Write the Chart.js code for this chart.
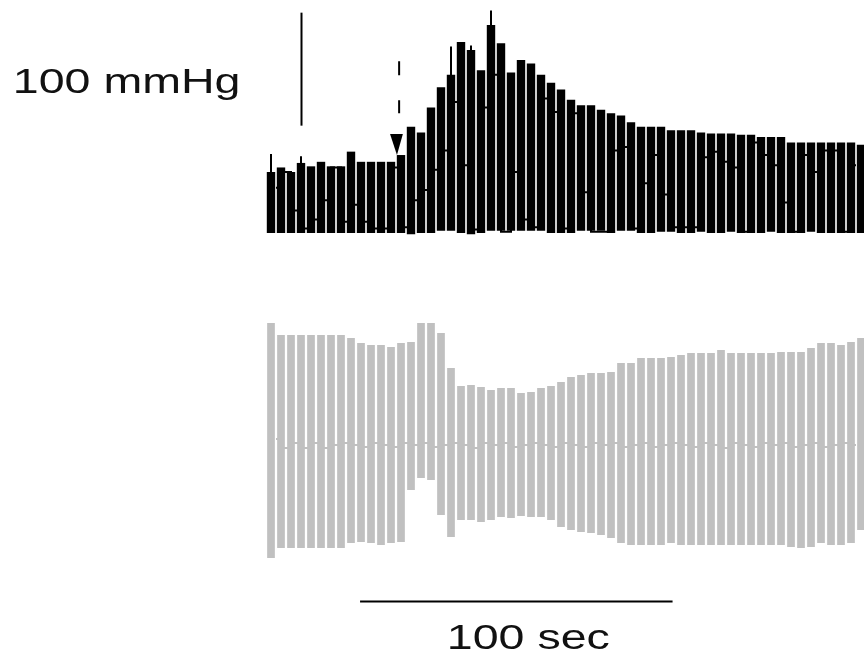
<!DOCTYPE html>
<html>
<head>
<meta charset="utf-8">
<script src="https://cdn.jsdelivr.net/npm/chart.js@4/dist/chart.umd.min.js"></script>
<style>
html,body{margin:0;padding:0;background:#fff;overflow:hidden;}
canvas{display:block;}
</style>
</head>
<body>
<canvas id="c" width="864" height="666"></canvas>
<script>
// time of each displayed sample bar (s)
const times = [0,3.2,6.4,9.6,12.8,16,19.2,22.4,25.6,28.8,32,35.2,38.4,41.6,44.8,48,51.2,54.4,57.6,60.8,
  64,67.2,70.4,73.6,76.8,80,83.2,86.4,89.6,92.8,96,99.2,102.4,105.6,108.8,112,115.2,118.4,121.6,124.8,
  128,131.2,134.4,137.6,140.8,144,147.2,150.4,153.6,156.8,160,163.2,166.4,169.6,172.8,176,179.2,182.4,185.6,188.8];

// arterial pressure envelope (mmHg): upper and lower
const bpHigh = [94,98,94,102,99,103,99,99,112,103,103,103,103,109,134,129,151,169,180,209,
  202,184,224,208,182,193,190,180,173,167,158,153,153,149,146,144,138,134,134,134,
  131,131,131,129,128,128,128,127,127,125,125,125,120,120,120,120,120,120,120,118];
const bpLow = [40,40,40,40,40,40,40,40,40,40,40,40,40,40,39,40,40,42,42,40,
  39,40,42,42,42,42,42,42,40,40,40,42,42,42,40,42,42,40,40,41,
  41,40,40,41,40,40,41,40,40,40,41,40,40,40,41,40,40,40,40,40];
// brief systolic spikes above some beats (mmHg)
const bpSpike = [110,null,null,108,null,null,null,null,null,null,null,null,null,null,null,null,null,null,205,null,
  206,null,237,null,null,null,null,null,null,null,null,null,null,null,null,null,null,null,null,null,
  null,null,null,null,null,null,null,null,null,null,null,null,null,null,null,null,null,null,null,null];
// pressure level where the trace crosses between successive beats (mmHg)
const bpCross = [80,94,60,44,52,69,98,50,65,50,44,44,98,45,69,78,96,113,156,100,
  43,151,180,41,94,52,45,159,147,44,146,76,41,41,113,116,44,84,109,74,
  45,45,45,107,112,103,98,41,120,109,100,67,41,109,94,113,113,41,100];

// second signal envelope (arbitrary units): upper and lower
const flowHigh = [122,110,110,110,110,110,110,110,107,102,100,100,98,102,103,122,122,112,77,59,
  60,58,55,57,57,52,53,57,59,63,68,70,72,72,73,82,82,87,87,87,
  88,90,92,92,92,95,92,92,92,92,92,93,93,93,97,102,102,100,103,107];
const flowLow = [-113,-103,-103,-103,-103,-103,-103,-103,-98,-97,-98,-100,-98,-97,-45,-33,-35,-70,-92,-75,
  -75,-77,-75,-72,-73,-71,-72,-72,-75,-82,-85,-87,-88,-90,-93,-98,-100,-100,-100,-100,
  -98,-100,-100,-100,-100,-100,-100,-100,-100,-100,-100,-100,-102,-103,-102,-98,-100,-100,-98,-85];
const flowCross = [6,-3,2,-3,2,-3,0,2,0,-2,2,0,-2,2,0,2,-2,0,2,0,
  -3,2,0,2,-2,0,2,0,-2,2,0,-2,2,0,2,-2,0,2,-2,0,
  2,0,-2,2,0,-3,2,0,-2,2,0,2,-2,0,2,-2,0,2,0];

// scale bars
const pressureBar = {t: 9.6, from: 135, size: 100, label: "100 mmHg"};
const timeBar = {from: 28.5, size: 100, level: -156, label: "100 sec"};
const injection = {t: 41.0, top: 192, bottom: 146, arrowTop: 127.6, arrowTip: 109, arrowT0: 38.1, arrowT1: 42.2, arrowTipT: 40.3};

const gapTimes = times.slice(1).map((t, i) => (times[i] + t) / 2);
const bpData = times.map((t, i) => ({x: t, y: [bpLow[i], bpHigh[i]]}));
const spikeData = times.map((t, i) => bpSpike[i] == null ? null : ({x: t, y: [bpHigh[i] - 2, bpSpike[i]]})).filter(d => d);
const bpCrossData = gapTimes.map((t, i) => ({x: t, y: bpCross[i]}));
const flowData = times.map((t, i) => ({x: t, y: [flowLow[i], flowHigh[i]]}));
const flowCrossData = gapTimes.map((t, i) => ({x: t, y: flowCross[i]}));

const annot = {
  id: 'annot',
  afterDatasetsDraw(chart) {
    const {ctx, scales} = chart;
    const x = scales.x, y = scales.y, y2 = scales.y2;
    ctx.save();
    ctx.strokeStyle = '#000';
    ctx.fillStyle = '#000';
    const px = Math.round(x.getPixelForValue(pressureBar.t)) + 0.5;
    ctx.lineWidth = 2;
    ctx.beginPath();
    ctx.moveTo(px, y.getPixelForValue(pressureBar.from));
    ctx.lineTo(px, y.getPixelForValue(pressureBar.from + pressureBar.size));
    ctx.stroke();
    const dx = x.getPixelForValue(injection.t);
    ctx.setLineDash([14, 25]);
    ctx.beginPath();
    ctx.moveTo(dx, y.getPixelForValue(injection.top));
    ctx.lineTo(dx, y.getPixelForValue(injection.bottom));
    ctx.stroke();
    ctx.setLineDash([]);
    ctx.beginPath();
    ctx.moveTo(x.getPixelForValue(injection.arrowT0), y.getPixelForValue(injection.arrowTop));
    ctx.lineTo(x.getPixelForValue(injection.arrowT1), y.getPixelForValue(injection.arrowTop));
    ctx.lineTo(x.getPixelForValue(injection.arrowTipT), y.getPixelForValue(injection.arrowTip));
    ctx.closePath();
    ctx.fill();
    const hy = Math.round(y2.getPixelForValue(timeBar.level)) + 0.5;
    const hx0 = x.getPixelForValue(timeBar.from), hx1 = x.getPixelForValue(timeBar.from + timeBar.size);
    ctx.lineWidth = 2;
    ctx.beginPath();
    ctx.moveTo(hx0, hy);
    ctx.lineTo(hx1, hy);
    ctx.stroke();
    ctx.fillStyle = '#111';
    ctx.font = '35px "Liberation Sans", Arial, sans-serif';
    ctx.textBaseline = 'alphabetic';
    const sx = 1.33;
    let w = ctx.measureText(pressureBar.label).width * sx;
    ctx.save();
    ctx.translate(px - 61 - w, y.getPixelForValue(pressureBar.from + pressureBar.size) + 80);
    ctx.scale(sx, 1);
    ctx.fillText(pressureBar.label, 0, 0);
    ctx.restore();
    w = ctx.measureText(timeBar.label).width * sx;
    ctx.save();
    ctx.translate((hx0 + hx1) / 2 + 12 - w / 2, hy + 47);
    ctx.scale(sx, 1);
    ctx.fillText(timeBar.label, 0, 0);
    ctx.restore();
    ctx.restore();
  }
};

new Chart(document.getElementById('c'), {
  type: 'bar',
  data: {
    datasets: [
      {type: 'line', data: flowCrossData, yAxisID: 'y2', borderColor: '#c0c0c0', borderWidth: 2, pointRadius: 0, stepped: 'middle', order: 5},
      {data: flowData, yAxisID: 'y2', backgroundColor: '#c0c0c0', barPercentage: 0.77, categoryPercentage: 1, grouped: false, order: 4},
      {type: 'line', data: bpCrossData, yAxisID: 'y', borderColor: '#000', borderWidth: 2, pointRadius: 0, stepped: 'middle', order: 3},
      {data: bpData, yAxisID: 'y', backgroundColor: '#000', barPercentage: 0.84, categoryPercentage: 1, grouped: false, order: 2},
      {data: spikeData, yAxisID: 'y', backgroundColor: '#000', barPercentage: 0.2, categoryPercentage: 1, grouped: false, order: 1}
    ]
  },
  options: {
    responsive: false,
    devicePixelRatio: 1,
    animation: false,
    layout: {padding: 0},
    plugins: {legend: {display: false}, tooltip: {enabled: false}, title: {display: false}},
    scales: {
      x: {type: 'linear', display: false, min: -86.72, max: 189.76, offset: false},
      y: {display: false, min: -343.2, max: 246.2},
      y2: {display: false, min: -221, max: 445}
    }
  }
  ,plugins: [annot]
});
</script>
</body>
</html>
